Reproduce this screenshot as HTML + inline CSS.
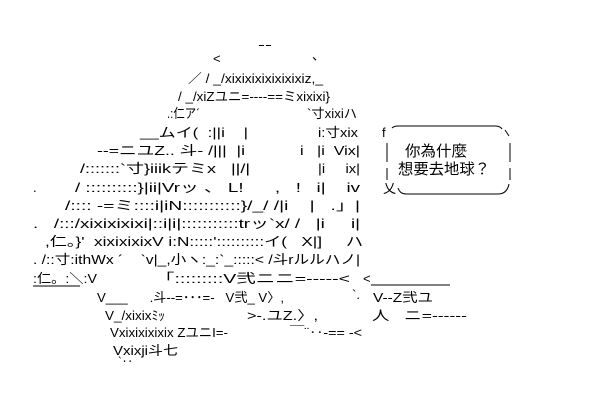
<!DOCTYPE html>
<html><head><meta charset="utf-8"><style>
html,body{margin:0;padding:0;background:#fff;width:609px;height:406px;overflow:hidden}
svg{display:block}
text{font-family:"Liberation Sans","Noto Sans CJK JP",sans-serif;font-size:13px;fill:#000;white-space:pre}
</style></head><body>
<svg width="609" height="406" xmlns="http://www.w3.org/2000/svg" xml:space="preserve">
<g lengthAdjust="spacingAndGlyphs">
<text x="258" y="49" textLength="14" lengthAdjust="spacingAndGlyphs">--</text>
<text x="213" y="63">&lt;</text>
<text x="312" y="60">、</text>
<text x="188" y="83" textLength="135" lengthAdjust="spacingAndGlyphs">／ / _/xixixixixixixixiz,_</text>
<text x="178" y="101" textLength="152" lengthAdjust="spacingAndGlyphs">/ _/xiZユニ=----==ミxixixi}</text>
<text x="167" y="118" textLength="33" lengthAdjust="spacingAndGlyphs">.:仁ア´</text>
<text x="307" y="118" textLength="50" lengthAdjust="spacingAndGlyphs">`寸xixiハ</text>
<text x="140" y="137" textLength="108" lengthAdjust="spacingAndGlyphs">__ムイ(  :||i    |</text>
<text x="318" y="137" textLength="40" lengthAdjust="spacingAndGlyphs">i:寸xix</text>
<text x="97" y="155" textLength="148" lengthAdjust="spacingAndGlyphs">--=ニユZ.. 斗- /|||  |i</text>
<text x="300" y="155" textLength="60" lengthAdjust="spacingAndGlyphs">i   |i  Vix|</text>
<text x="80" y="173" textLength="170" lengthAdjust="spacingAndGlyphs">/:::::::`寸}iiikテミx   ||/|</text>
<text x="318" y="173" textLength="42" lengthAdjust="spacingAndGlyphs">|i     ix|</text>
<text x="33" y="192">.</text>
<text x="75" y="192" textLength="285" lengthAdjust="spacingAndGlyphs">/ ::::::::::}|ii|Vrッ 、 L!      ,   !   i|    iv</text>
<text x="65" y="210" textLength="295" lengthAdjust="spacingAndGlyphs">/:::: -=ミ::::i|iN:::::::::::}/_/ /|i    |   .」|</text>
<text x="33" y="228" textLength="327" lengthAdjust="spacingAndGlyphs">.   /:::/xixixixixi|::i|i|:::::::::::trッ`x/ /   |i     i|</text>
<text x="45" y="246" textLength="318" lengthAdjust="spacingAndGlyphs">,仁。}'  xixixixixV i:N:::::'::::::::::イ(   X|]     ハ</text>
<text x="33" y="264" textLength="327" lengthAdjust="spacingAndGlyphs">. /::寸:ithWx ´    `v|_,小ヽ:_:`_:::::&lt; /斗rルルハノ|</text>
<text x="33" y="283" textLength="64" lengthAdjust="spacingAndGlyphs">:仁。:＼:V</text>
<line x1="33" y1="286" x2="80" y2="286" stroke="#000" stroke-width="1"/>
<text x="155" y="283" textLength="195" lengthAdjust="spacingAndGlyphs">「:::::::::V弐ニニ=-----&lt;</text>
<text x="363" y="283">&lt;</text>
<line x1="371" y1="285" x2="450" y2="285" stroke="#000" stroke-width="1"/>
<text x="97" y="302" textLength="187" lengthAdjust="spacingAndGlyphs">V___      .斗--=･･･=-   V弐_ V〉,</text>
<text x="352" y="299">`.</text>
<text x="373" y="302" textLength="60" lengthAdjust="spacingAndGlyphs">V--Z弐ユ</text>
<text x="105" y="320" textLength="60" lengthAdjust="spacingAndGlyphs">V_/xixixﾐｯ</text>
<text x="247" y="320" textLength="71" lengthAdjust="spacingAndGlyphs">&gt;-.ユZ.〉,</text>
<text x="372" y="320" textLength="95" lengthAdjust="spacingAndGlyphs">人   ニ=------</text>
<text x="110" y="337" textLength="118" lengthAdjust="spacingAndGlyphs">Vxixixixixix ZユニI=-</text>
<text x="290" y="337" textLength="72" lengthAdjust="spacingAndGlyphs">￣¨‥-== -&lt;</text>
<text x="113" y="355" textLength="65" lengthAdjust="spacingAndGlyphs">Vxixji斗七</text>
<text x="118" y="366" textLength="15" lengthAdjust="spacingAndGlyphs">`‥</text>
</g>
<!-- speech bubble -->
<text x="382" y="137">f</text>
<path d="M392 128 Q394 126 398 126 L495 126 Q500 126 502 129" fill="none" stroke="#000"/>
<path d="M505 130 L509 136" stroke="#000"/>
<line x1="387" y1="143" x2="387" y2="162" stroke="#000"/>
<line x1="510" y1="143" x2="510" y2="162" stroke="#000"/>
<line x1="387" y1="168" x2="387" y2="180" stroke="#000"/>
<line x1="510" y1="168" x2="510" y2="180" stroke="#000"/>
<text x="383" y="193">乂</text>
<path d="M398 188 Q400 194 406 194 L498 194 Q507 194 509 184" fill="none" stroke="#000"/>
<text x="405" y="156" textLength="62" style="font-size:15px" lengthAdjust="spacingAndGlyphs">你為什麼</text>
<text x="398" y="174" textLength="92" style="font-size:15px" lengthAdjust="spacingAndGlyphs">想要去地球？</text>
</svg>
</body></html>
